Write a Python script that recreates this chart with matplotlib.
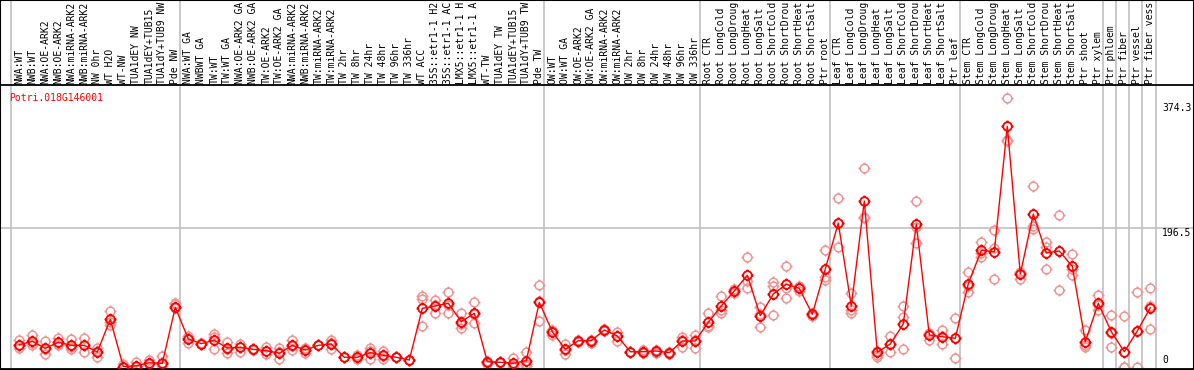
import matplotlib
matplotlib.use('Agg')
import matplotlib.pyplot as plt
from matplotlib.path import Path
from matplotlib.transforms import blended_transform_factory

gene = 'Potri.018G146001'

samples = [
    'NWA:WT', 'NWB:WT', 'NWA:OE-ARK2', 'NWB:OE-ARK2', 'NWA:miRNA-ARK2', 'NWB:miRNA-ARK2',
    'NW 0hr', 'WT H2O', 'WT-NW', 'TUA1dEY NW', 'TUA1dEY+TUB15', 'TUA1dY+TUB9 NW', 'Pde NW',
    'NWA:WT GA', 'NWBWT GA', 'TW:WT', 'TW:WT GA', 'NWA:OE-ARK2 GA', 'NWB:OE-ARK2 GA',
    'TW:OE-ARK2', 'TW:OE-ARK2 GA', 'NWA:miRNA-ARK2', 'NWB:miRNA-ARK2', 'TW:miRNA-ARK2',
    'TW:miRNA-ARK2', 'TW 2hr', 'TW 8hr', 'TW 24hr', 'TW 48hr', 'TW 96hr', 'TW 336hr',
    'WT ACC', '35S::etr1-1 H2', '35S::etr1-1 AC', 'LMX5::etr1-1 H', 'LMX5::etr1-1 A',
    'WT-TW', 'TUA1dEY TW', 'TUA1dEY+TUB15', 'TUA1dY+TUB9 TW', 'Pde TW',
    'OW:WT', 'OW:WT GA', 'OW:OE-ARK2', 'OW:OE-ARK2 GA', 'OW:miRNA-ARK2', 'OW:miRNA-ARK2',
    'OW 2hr', 'OW 8hr', 'OW 24hr', 'OW 48hr', 'OW 96hr', 'OW 336hr',
    'Root CTR', 'Root LongCold', 'Root LongDroug', 'Root LongHeat', 'Root LongSalt',
    'Root ShortCold', 'Root ShortDrou', 'Root ShortHeat', 'Root ShortSalt', 'Ptr root',
    'Leaf CTR', 'Leaf LongCold', 'Leaf LongDroug', 'Leaf LongHeat', 'Leaf LongSalt',
    'Leaf ShortCold', 'Leaf ShortDrou', 'Leaf ShortHeat', 'Leaf ShortSalt', 'Ptr leaf',
    'Stem CTR', 'Stem LongCold', 'Stem LongDroug', 'Stem LongHeat', 'Stem LongSalt',
    'Stem ShortCold', 'Stem ShortDrou', 'Stem ShortHeat', 'Stem ShortSalt', 'Ptr shoot',
    'Ptr xylem', 'Ptr phloem', 'Ptr fiber', 'Ptr vessel', 'Ptr fiber vess',
]

# index of the first sample in each block (separator lines)
group_starts = [0, 13, 41, 53, 63, 73, 84, 85, 86, 87]

means = [
    31.0, 35.8, 25.9, 34.4, 30.1, 30.1, 20.6, 67.1, 0.0, 1.0, 5.4, 4.5, 84.2,
    39.1, 32.5, 37.3, 26.3, 27.3, 24.4, 22.5, 18.8, 30.1, 23.5, 30.1, 32.0,
    13.1, 13.1, 19.7, 15.9, 13.1, 9.2, 82.8, 86.1, 89.9, 63.7, 75.7,
    6.8, 6.0, 4.5, 8.3, 91.3,
    49.5, 24.4, 36.7, 36.7, 51.9, 43.4, 21.0, 21.0, 22.0, 19.7, 36.3, 36.3,
    62.9, 86.1, 107.4, 129.7, 72.3, 103.1, 116.9, 111.2, 74.3, 138.7,
    204.1, 86.1, 235.4, 20.2, 32.0, 60.5, 202.7, 44.8, 42.4, 40.1,
    117.8, 165.3, 163.3, 341.7, 131.6, 216.9, 161.5, 164.3, 142.5, 35.3, 89.9,
    49.5, 21.0, 50.5, 83.6,
]

replicates = [
    [37.7, 25.9, 31], [44.8, 30.6, 33], [35.8, 17.3, 25], [40.5, 32, 31],
    [38.7, 24.9, 28], [40.1, 21, 30], [25.9, 13, 22], [78.5, 59, 64],
    [3, 0, 0], [6.8, 0, 0], [9, 4, 3], [15, 3, 1], [90.8, 88.9, 82.8],
    [43.8, 33, 40], [32.5, 32, 33], [45.8, 25.3, 42], [34.9, 18.8, 25],
    [32, 21, 28], [24.4, 25, 24], [28.2, 17.3, 22], [25.9, 10.2, 20],
    [37.7, 23.5, 29], [26, 19.5, 24], [30, 30, 30], [37.7, 24.9, 33],
    [13, 13, 13], [16.4, 10, 13], [25.9, 10.2, 22], [22.5, 10, 15],
    [13, 13, 13], [9, 9, 9], [100.3, 95.6, 57.6], [94.6, 75.7, 88],
    [105.5, 75.7, 88], [76.5, 54.3, 60], [92.2, 61.4, 74],
    [6.8, 4, 8], [6, 5, 7], [11.7, 2, 0], [21, 3, 1], [115.9, 65.1, 93],
    [51, 44.8, 52], [32, 17.8, 23], [36.7, 35, 38], [36.7, 34, 38],
    [51.9, 50, 53], [49.5, 36.7, 44], [21, 21, 21], [21, 19, 23],
    [22, 19, 24], [19.7, 18, 21], [42.4, 28.2, 38], [44.8, 25.9, 38],
    [75.7, 56.6, 58], [100.3, 76.5, 80], [110, 104, 108], [155.3, 111.2, 122],
    [85.1, 56.6, 74], [120.6, 73.3, 115], [143, 97, 112], [114, 108, 112],
    [74, 72, 76], [165.7, 123, 128],
    [239.3, 170.4, 204], [104.1, 76.5, 80], [281.9, 210.8, 213], [17, 22, 14],
    [43.4, 20, 32], [86.1, 70.8, 24.4], [235.4, 175.2, 198], [47, 37.7, 46],
    [51.9, 31.6, 43], [69.4, 11.7, 40],
    [134, 105.5, 114], [177.5, 156.2, 162], [193.7, 124.5, 169], [381.5, 322.2, 321],
    [124.5, 135, 133], [256.8, 195.6, 200], [176.7, 138.7, 170], [215.5, 108.8, 165],
    [159.6, 130.2, 138], [51.9, 27.3, 31], [101.7, 80.4, 88],
    [73.3, 28.2, 47], [71.8, 0, 0], [105.5, 0, 50], [111.2, 86.1, 52.9],
]

ytick_values = [0, 196.5, 374.3]

# circle with four little ticks, like the original cgi plot marker
r = 0.72
ticks = Path([(0, r), (0, 1), (0, -r), (0, -1), (r, 0), (1, 0), (-r, 0), (-1, 0)],
             [Path.MOVETO, Path.LINETO] * 4)
marker = Path.make_compound_path(Path.circle((0, 0), r), ticks)

mono = 'DejaVu Sans Mono'
fs = 7.0
fig = plt.figure(figsize=(11.94, 3.70), dpi=100)
ax = fig.add_axes([0, 1.5 / 370, 1193.5 / 1194, 283.5 / 370])
x = list(range(len(samples)))
ax.set_xlim(-19.3 / 13, (1193.5 - 19.3) / 13)
ax.set_ylim(-2 / 0.703, 281.5 / 0.703)

grey = '#c0c0c0'
top_ext = 1 + 85 / 283.5
for s in group_starts:
    ax.axvline(s - 0.65, ymin=0, ymax=top_ext, color=grey, lw=1.2, clip_on=False, zorder=0)
ax.axvline(len(samples) - 1 + 0.45, ymin=0, ymax=top_ext, color=grey, lw=1.2, clip_on=False, zorder=0)
ax.axhline(ytick_values[1], color=grey, lw=1.2, zorder=0)

for i, reps in enumerate(replicates):
    ax.plot([i] * len(reps), reps, ls='none', marker=marker, ms=8.6, mfc='none',
            mec='#ee9595', mew=1.1, zorder=2)
ax.plot(x, means, color='#ff0000', lw=1.0, zorder=3)
ax.plot(x, means, ls='none', marker=marker, ms=8.6, mfc='none', mec='#ff0000', mew=1.3, zorder=4)

lab_tr = blended_transform_factory(ax.transData, ax.transAxes)
for i, name in enumerate(samples):
    ax.text(i, 1 + 1.5 / 283.5, name, transform=lab_tr, rotation=90, ha='center', va='bottom',
            family=mono, fontsize=fs, clip_on=False)

yt_tr = blended_transform_factory(ax.transAxes, ax.transData)
ax.text(1162 / 1193.5, ytick_values[2], '374.3', transform=yt_tr, va='top', ha='left', family=mono, fontsize=fs)
ax.text(1162 / 1193.5, ytick_values[1], '196.5', transform=yt_tr, va='top', ha='left', family=mono, fontsize=fs)
ax.text(1162 / 1193.5, ytick_values[0] + 2, '0', transform=yt_tr, va='bottom', ha='left', family=mono, fontsize=fs)

ax.text(9 / 1193.5, 1 - 8 / 283.5, gene, transform=ax.transAxes, color='#ff0000', va='top', ha='left',
        family=mono, fontsize=fs)

ax.set_xticks([])
ax.set_yticks([])
for sp in ax.spines.values():
    sp.set_linewidth(1.3)
    sp.set_color('black')

fig.patches.append(plt.Rectangle((0, 0), 1, 1, transform=fig.transFigure, fill=False,
                                 edgecolor='black', lw=1.5, zorder=10))

fig.savefig('out.png', dpi=100)
